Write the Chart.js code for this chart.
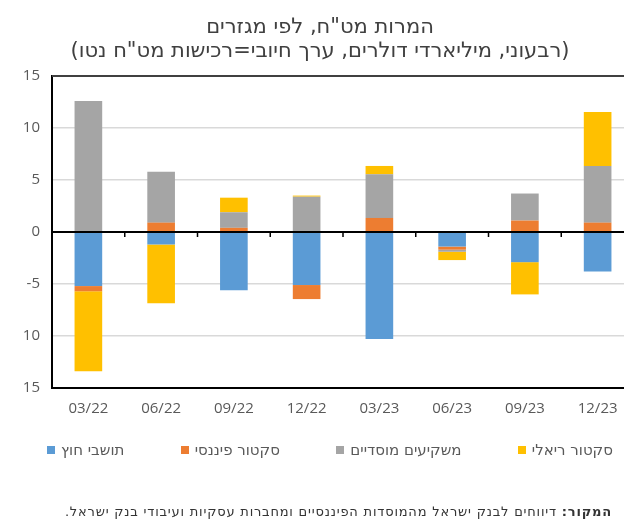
<!DOCTYPE html>
<html lang="he">
<head>
  <meta charset="UTF-8">
  <title>המרות מט"ח, לפי מגזרים</title>
  <script src="https://cdn.jsdelivr.net/npm/chart.js"></script>
  <style>
    html, body {
      margin: 0;
      padding: 0;
      background: #fff;
      overflow: hidden;
    }
    .wrap {
      position: relative;
      width: 624px;
      height: 523px;
      overflow: hidden;
      font-family: "DejaVu Sans", sans-serif;
      color: #404040;
    }
    .title {
      position: absolute;
      left: 0;
      width: 640px;
      text-align: center;
      line-height: 24px;
      font-size: 21px;
    }
    .source {
      position: absolute;
      right: 12px;
      top: 504px;
      font-size: 13px;
      letter-spacing: 0.8px;
      color: #333;
      white-space: nowrap;
    }
    #legend {
      position: absolute;
      left: 47px;
      width: 566px;
      top: 440px;
      display: flex;
      justify-content: space-between;
      font-size: 15px;
      color: #595959;
      line-height: 20px;
    }
    #legend span.item {
      display: flex;
      align-items: center;
    }
    #legend span.box {
      width: 8px;
      height: 8px;
      margin-right: 6px;
      display: inline-block;
    }
    canvas {
      position: absolute;
      left: 0;
      top: 0;
    }
  </style>
</head>
<body>
<div class="wrap">
  <canvas id="fxChart" width="660" height="523"></canvas>
  <div class="title" dir="rtl" style="top:14px">המרות מט"ח, לפי מגזרים</div>
  <div class="title" dir="rtl" style="top:38px">(רבעוני, מיליארדי דולרים, ערך חיובי=רכישות מט"ח נטו)</div>
  <div id="legend"></div>
  <div class="source" dir="rtl"><b>המקור:</b> דיווחים לבנק ישראל מהמוסדות הפיננסיים ומחברות עסקיות ועיבודי בנק ישראל.</div>
</div>

<script>
  // רבעונים
  const quarters = ['03/22', '06/22', '09/22', '12/22', '03/23', '06/23', '09/23', '12/23'];

  // מיליארדי דולרים, לפי מגזר
  const foreignResidents = [-5.2, -1.2, -5.6, -5.1, -10.3, -1.4, -2.9, -3.8];
  const financialSector = [-0.5, 0.9, 0.4, -1.35, 1.35, -0.3, 1.1, 0.9];
  const institutional = [12.6, 4.9, 1.5, 3.4, 4.2, -0.2, 2.6, 5.45];
  const realSector = [-7.7, -5.65, 1.4, 0.1, 0.8, -0.8, -3.1, 5.2];

  const seriesLabels = ['תושבי חוץ', 'סקטור פיננסי', 'משקיעים מוסדיים', 'סקטור ריאלי'];
  const seriesColors = ['#5B9BD5', '#ED7D31', '#A5A5A5', '#FFC000'];

  // תוויות ציר Y כפי שמופיעות בתרשים המקורי
  const yTickValues = [-15, -10, -5, 0, 5, 10, 15];
  const yTickLabels = ['15', '10', '-5', '0', '5', '10', '15'];

  const textColor = '#595959';

  // מסגרת עליונה וסימוני ציר על קו האפס
  const framePlugin = {
    id: 'frame',
    afterDraw(chart) {
      const {ctx, chartArea} = chart;
      const x = chart.scales.x;
      const y0 = chart.scales.y.getPixelForValue(0);
      ctx.save();
      ctx.strokeStyle = '#404040';
      ctx.lineWidth = 2;
      ctx.beginPath();
      ctx.moveTo(chartArea.left, chartArea.top);
      ctx.lineTo(chartArea.right, chartArea.top);
      ctx.stroke();
      ctx.strokeStyle = '#000';
      ctx.lineWidth = 1.5;
      ctx.beginPath();
      for (let i = 0; i < quarters.length; i++) {
        const px = x.getPixelForValue(i) + (x.getPixelForValue(1) - x.getPixelForValue(0)) / 2;
        ctx.moveTo(px, y0);
        ctx.lineTo(px, y0 + 5);
      }
      ctx.stroke();
      ctx.restore();
    }
  };

  const seriesData = [foreignResidents, financialSector, institutional, realSector];

  const chart = new Chart(document.getElementById('fxChart').getContext('2d'), {
    type: 'bar',
    data: {
      labels: quarters,
      datasets: seriesLabels.map((label, i) => ({
        label: label,
        data: seriesData[i],
        backgroundColor: seriesColors[i]
      }))
    },
    options: {
      responsive: false,
      animation: false,
      layout: {
        padding: {top: 76, left: 0, right: 26, bottom: 85}
      },
      datasets: {
        bar: {
          barPercentage: 0.38,
          categoryPercentage: 1
        }
      },
      scales: {
        x: {
          stacked: true,
          grid: {display: false},
          border: {display: true, color: '#000', width: 2},
          ticks: {color: textColor, font: {size: 15, family: 'Open Sans'}, padding: 4},
          afterFit(scale) { scale.height = 50; }
        },
        y: {
          stacked: true,
          min: -15,
          max: 15,
          afterBuildTicks(scale) {
            scale.ticks = yTickValues.map(v => ({value: v}));
          },
          grid: {
            drawTicks: false,
            color: ctx => ctx.tick && ctx.tick.value === 0 ? '#000' : '#D9D9D9',
            lineWidth: ctx => ctx.tick && ctx.tick.value === 0 ? 2 : 1.5
          },
          border: {display: true, color: '#000', width: 2},
          ticks: {
            color: textColor,
            font: {size: 15, family: 'Open Sans'},
            padding: 12,
            callback: value => yTickLabels[yTickValues.indexOf(value)]
          },
          afterFit(scale) { scale.width = 52; }
        }
      },
      plugins: {
        legend: {display: false},
        tooltip: {enabled: false}
      }
    },
    plugins: [framePlugin]
  });

  // מקרא בסדר הסדרות
  const legendEl = document.getElementById('legend');
  chart.data.datasets.forEach(ds => {
    const item = document.createElement('span');
    item.className = 'item';
    const box = document.createElement('span');
    box.className = 'box';
    box.style.background = ds.backgroundColor;
    const txt = document.createElement('span');
    txt.dir = 'rtl';
    txt.textContent = ds.label;
    item.appendChild(box);
    item.appendChild(txt);
    legendEl.appendChild(item);
  });
</script>
</body>
</html>
